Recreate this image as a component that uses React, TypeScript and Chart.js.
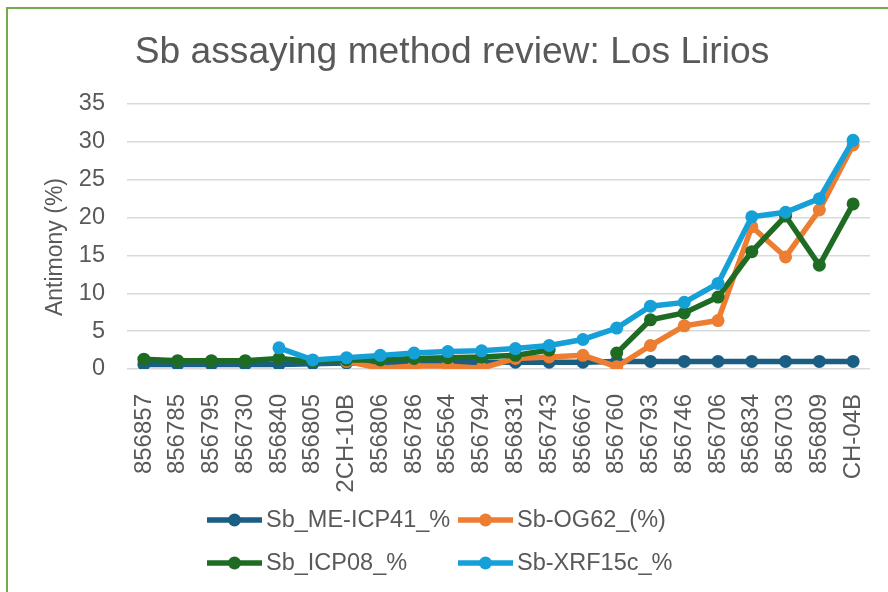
import React, { useEffect, useRef } from "react";
import { Chart, registerables } from "chart.js";

Chart.register(...registerables);

const categories = [
  "856857", "856785", "856795", "856730", "856840", "856805", "2CH-10B",
  "856806", "856786", "856564", "856794", "856831", "856743", "856667",
  "856760", "856793", "856746", "856706", "856834", "856703", "856809", "CH-04B",
];

const sbMeIcp41 = [0.6, 0.6, 0.6, 0.6, 0.6, 0.7, 0.8, 0.8, 0.8, 0.9, 0.9, 0.9, 0.9, 0.9, 1.0, 1.0, 1.0, 1.0, 1.0, 1.0, 1.0, 1.0];
const sbOg62 = [null, null, null, null, null, null, 1.0, 0.1, 0.4, 0.4, 0.1, 1.4, 1.6, 1.8, 0.3, 3.1, 5.7, 6.4, 18.8, 14.8, 21.0, 29.6];
const sbIcp08 = [1.3, 1.1, 1.1, 1.1, 1.4, 1.0, 1.2, 1.2, 1.4, 1.5, 1.6, 1.8, 2.5, null, 2.1, 6.5, 7.4, 9.5, 15.5, 20.2, 13.7, 21.8];
const sbXrf15c = [null, null, null, null, 2.8, 1.2, 1.5, 1.8, 2.1, 2.3, 2.4, 2.7, 3.1, 3.9, 5.4, 8.3, 8.8, 11.3, 20.1, 20.7, 22.5, 30.2];

const seriesNames = ["Sb_ME-ICP41_%", "Sb-OG62_(%)", "Sb_ICP08_%", "Sb-XRF15c_%"];
const seriesColors = ["#1b5e84", "#ed7d31", "#1e6b24", "#16a0d8"];

const chartTitle = "Sb assaying method review: Los Lirios";
const yAxisTitle = "Antimony (%)";
const yTicksMax = 35;
const yTicksStep = 5;

const FONT = "'Liberation Sans', Arial, sans-serif";
const TEXT = "#595959";

const decorations = {
  id: "decorations",
  afterDraw(chart: any) {
    const ctx = chart.ctx;
    // title
    ctx.save();
    ctx.fillStyle = TEXT;
    ctx.font = `37.2px ${FONT}`;
    ctx.textAlign = "center";
    ctx.textBaseline = "alphabetic";
    ctx.fillText(chartTitle, 444, 54);
    ctx.restore();
    // y axis title
    ctx.save();
    ctx.fillStyle = TEXT;
    ctx.font = `23px ${FONT}`;
    ctx.translate(48, 238);
    ctx.rotate(-Math.PI / 2);
    ctx.textAlign = "center";
    ctx.textBaseline = "middle";
    ctx.fillText(yAxisTitle, 0, 0);
    ctx.restore();
    // legend in a 2x2 grid
    const cols = [199, 450];
    const rows = [511, 554];
    chart.data.datasets.forEach((ds: any, i: number) => {
      const x = cols[i % 2];
      const y = rows[Math.floor(i / 2)];
      ctx.save();
      ctx.strokeStyle = ds.borderColor;
      ctx.lineWidth = 5.5;
      ctx.lineCap = "butt";
      ctx.beginPath();
      ctx.moveTo(x, y);
      ctx.lineTo(x + 55, y);
      ctx.stroke();
      ctx.fillStyle = ds.borderColor;
      ctx.beginPath();
      ctx.arc(x + 27.5, y, 6.5, 0, Math.PI * 2);
      ctx.fill();
      ctx.fillStyle = TEXT;
      ctx.font = `23.5px ${FONT}`;
      ctx.textBaseline = "middle";
      ctx.textAlign = "left";
      ctx.fillText(ds.label, x + 59, y + 1);
      ctx.restore();
    });
  },
};

export default function App() {
  const ref = useRef<HTMLCanvasElement>(null);
  useEffect(() => {
    const series = [sbMeIcp41, sbOg62, sbIcp08, sbXrf15c];
    const chart = new Chart(ref.current!, {
      type: "line",
      data: {
        labels: categories,
        datasets: series.map((d, i) => ({
          label: seriesNames[i],
          data: d,
          borderColor: seriesColors[i],
          backgroundColor: seriesColors[i],
          pointBackgroundColor: seriesColors[i],
          pointBorderWidth: 0,
          pointRadius: 6.5,
          borderWidth: 5.5,
          tension: 0,
          spanGaps: false,
          order: 4 - i,
        })),
      },
      options: {
        animation: false,
        responsive: false,
        maintainAspectRatio: false,
        layout: { padding: { left: 0, right: 18, top: 95, bottom: 0 } },
        plugins: {
          legend: { display: false },
          tooltip: { enabled: false },
          title: { display: false },
        },
        scales: {
          x: {
            offset: true,
            grid: { display: false, drawTicks: false },
            border: { display: false },
            ticks: {
              color: TEXT,
              font: { family: FONT, size: 24 },
              minRotation: 90,
              maxRotation: 90,
              autoSkip: false,
              padding: 25,
            },
            afterFit(scale: any) {
              scale.height = 223;
              scale.paddingLeft = 0;
              scale.paddingRight = 0;
            },
          },
          y: {
            min: 0,
            max: yTicksMax,
            grid: { color: "#d9d9d9", lineWidth: 1.5, drawTicks: false },
            border: { display: false },
            ticks: {
              stepSize: yTicksStep,
              color: TEXT,
              font: { family: FONT, size: 23.5 },
              padding: 22,
            },
            afterFit(scale: any) {
              scale.width = 119;
              scale.paddingTop = 0;
              scale.paddingBottom = 0;
            },
          },
        },
      },
      plugins: [decorations],
    });
    return () => chart.destroy();
  }, []);
  return (
    <div
      style={{
        position: "absolute",
        left: 6,
        top: 7,
        width: 882,
        height: 585,
        boxSizing: "border-box",
        borderLeft: "2px solid #70ad47",
        borderTop: "2px solid #70ad47",
        background: "#fff",
        overflow: "hidden",
      }}
    >
      <canvas ref={ref} width={880} height={583} style={{ display: "block" }} />
    </div>
  );
}
